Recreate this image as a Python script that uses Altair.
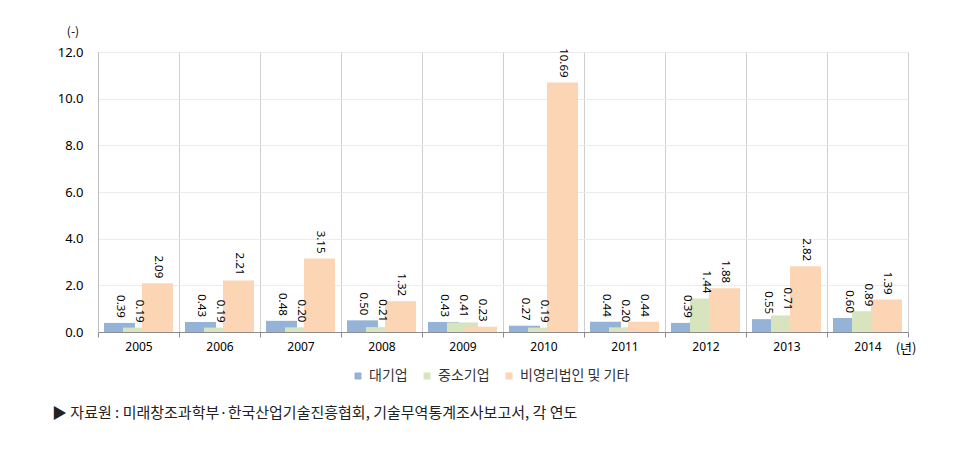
import altair as alt
import pandas as pd

years = [str(y) for y in range(2005, 2015)]
large = [0.39, 0.43, 0.48, 0.50, 0.43, 0.27, 0.44, 0.39, 0.55, 0.60]
sme = [0.19, 0.19, 0.20, 0.21, 0.41, 0.19, 0.20, 1.44, 0.71, 0.89]
nonprofit = [2.09, 2.21, 3.15, 1.32, 0.23, 10.69, 0.44, 1.88, 2.82, 1.39]
series = ["대기업", "중소기업", "비영리법인 및 기타"]
colors = ["#95B3D7", "#D7E4BD", "#FCD5B5"]
offsets = [-19, 0, 19]
y_ticks = [0, 2, 4, 6, 8, 10, 12]

source_text = "▶ 자료원 : 미래창조과학부·한국산업기술진흥협회, 기술무역통계조사보고서, 각 연도"
y_unit = "(-)"
x_unit = "(년)"

rows = []
for i, yr in enumerate(years):
    for s, vals in zip(series, [large, sme, nonprofit]):
        rows.append({"year": yr, "series": s, "value": vals[i], "label": f"{vals[i]:.2f}"})
df = pd.DataFrame(rows)

FONT = "Noto Sans CJK KR"
NUMFONT = "Noto Sans"

x_enc = alt.X(
    "year:N", sort=years, title=None,
    scale=alt.Scale(domain=years, paddingInner=0, paddingOuter=0),
    axis=alt.Axis(labelAngle=0, tickBand="extent", grid=True, gridColor="#cfcfcf",
                  domainColor="#8c8c8c", tickColor="#8c8c8c", tickSize=5,
                  labelPadding=4, labelFontSize=12, labelColor="#000000", labelFont=NUMFONT,
                  labelFontWeight="normal"),
)
y_enc = alt.Y(
    "value:Q", title=None,
    scale=alt.Scale(domain=[0, 12], nice=False),
    axis=alt.Axis(values=y_ticks, format=".1f", grid=True, gridColor="#ececec",
                  domain=True, domainColor="#bdbdbd", ticks=False, labelPadding=15,
                  labelFontSize=13, labelColor="#000000", labelFont=NUMFONT,
                  labelFontWeight="normal"),
)
color_enc = alt.Color(
    "series:N",
    scale=alt.Scale(domain=series, range=colors),
    legend=alt.Legend(title=None, orient="none", direction="horizontal",
                      legendX=253, legendY=317, symbolType="square", symbolSize=49,
                      symbolStrokeWidth=0, labelFontSize=14, labelFont=FONT,
                      labelColor="#333333", columnPadding=12, labelOffset=4),
)

base = alt.Chart(df)
layers = []
for s, off in zip(series, offsets):
    layers.append(
        base.transform_filter(alt.datum.series == s)
        .mark_bar(width=31, xOffset=off)
        .encode(x=x_enc, y=y_enc, color=color_enc)
    )
for s, off in zip(series, offsets):
    layers.append(
        base.transform_filter(alt.datum.series == s)
        .mark_text(angle=90, align="right", baseline="middle", xOffset=off, yOffset=-5,
                   fontSize=11.5, font=NUMFONT, color="#000000")
        .encode(x=x_enc, y=y_enc, text="label:N")
    )

layers.append(
    alt.Chart(pd.DataFrame({"t": [source_text]})).mark_text(align="left", baseline="middle", fontSize=15, font=FONT, color="#222222")
    .encode(text="t:N", x=alt.value(-46), y=alt.value(361))
)
layers.append(
    alt.Chart(pd.DataFrame({"t": [y_unit]})).mark_text(align="center", baseline="middle", fontSize=12, font=FONT, color="#000000")
    .encode(text="t:N", x=alt.value(-25), y=alt.value(-20))
)
layers.append(
    alt.Chart(pd.DataFrame({"t": [x_unit]})).mark_text(align="center", baseline="middle", fontSize=13, font=FONT, color="#000000")
    .encode(text="t:N", x=alt.value(808), y=alt.value(297))
)

chart = alt.layer(*layers).properties(
    width=810, height=280,
    autosize=alt.AutoSizeParams(type="none"),
    padding={"left": 90, "top": 44, "right": 63, "bottom": 110},
).configure_view(stroke=None).configure(background="#ffffff")

chart.save("out.html", embed_options={"renderer": "svg", "actions": False})
